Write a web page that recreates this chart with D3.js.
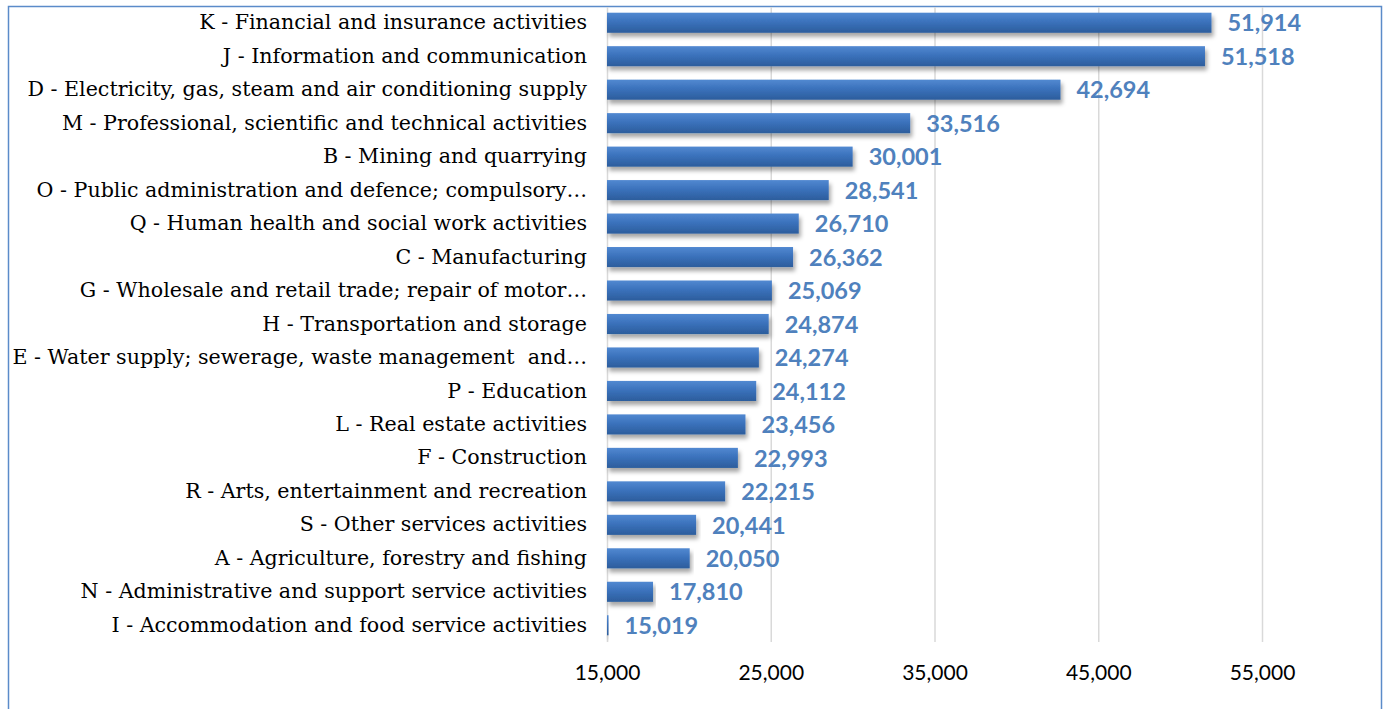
<!DOCTYPE html>
<html><head><meta charset="utf-8">
<script src="https://cdn.jsdelivr.net/npm/d3@7"></script>
<style>
html,body{margin:0;padding:0;background:#fff;overflow:hidden;}
svg{display:block;}
</style></head>
<body>
<svg id="chart" width="1388" height="709"></svg>
<script>
const categories = [
  "K - Financial and insurance activities",
  "J - Information and communication",
  "D - Electricity, gas, steam and air conditioning supply",
  "M - Professional, scientific and technical activities",
  "B - Mining and quarrying",
  "O - Public administration and defence; compulsory…",
  "Q - Human health and social work activities",
  "C - Manufacturing",
  "G - Wholesale and retail trade; repair of motor…",
  "H - Transportation and storage",
  "E - Water supply; sewerage, waste management  and…",
  "P - Education",
  "L - Real estate activities",
  "F - Construction",
  "R - Arts, entertainment and recreation",
  "S - Other services activities",
  "A - Agriculture, forestry and fishing",
  "N - Administrative and support service activities",
  "I - Accommodation and food service activities"
];
const values = [51914,51518,42694,33516,30001,28541,26710,26362,25069,24874,24274,24112,23456,22993,22215,20441,20050,17810,15019];
const tickValues = [15000,25000,35000,45000,55000];

const svg = d3.select("#chart");
const defs = svg.append("defs");
const grad = defs.append("linearGradient").attr("id","barGrad").attr("x1",0).attr("x2",0).attr("y1",0).attr("y2",1);
grad.append("stop").attr("offset","0%").attr("stop-color","#5289d1");
grad.append("stop").attr("offset","45%").attr("stop-color","#3b72bc");
grad.append("stop").attr("offset","100%").attr("stop-color","#2c5d9c");
const f = defs.append("filter").attr("id","shadow").attr("x","-5%").attr("y","-50%").attr("width","110%").attr("height","220%");
f.append("feDropShadow").attr("dx",2).attr("dy",4).attr("stdDeviation",2.2).attr("flood-color","#000").attr("flood-opacity",0.35);

// border
svg.append("rect").attr("x",8.5).attr("y",6.5).attr("width",1373).attr("height",720)
  .attr("fill","none").attr("stroke","#5b8bc9").attr("stroke-width",1.5);

const x = d3.scaleLinear().domain([15000,55000]).range([607,1262]);
const y = d3.scaleBand().domain(categories).range([6,642]).paddingInner(0.4).paddingOuter(0.2);

// gridlines
svg.append("g").selectAll("line").data(tickValues).join("line")
  .attr("x1",d=>x(d)+0.5).attr("x2",d=>x(d)+0.5).attr("y1",7).attr("y2",642)
  .attr("stroke","#d9d9d9").attr("stroke-width",1.5);

// x axis
const xAxis = d3.axisBottom(x).tickValues(tickValues).tickSize(0).tickPadding(0).tickFormat(d3.format(","));
const gx = svg.append("g").attr("transform","translate(0,680)").call(xAxis);
gx.select(".domain").remove();
gx.selectAll("text").attr("font-family","Lato, 'Open Sans', sans-serif").attr("font-size",21).attr("fill","#000").attr("dy","0");

// bars
svg.append("g").selectAll("rect").data(values).join("rect")
  .attr("x",x(15000)).attr("y",(d,i)=>y(categories[i]))
  .attr("width",d=>Math.max(1.5,x(d)-x(15000))).attr("height",y.bandwidth())
  .attr("fill","url(#barGrad)").attr("filter","url(#shadow)");

// category labels
const yAxis = d3.axisLeft(y).tickSize(0).tickPadding(20);
const gy = svg.append("g").attr("transform",`translate(${x(15000)},0)`).call(yAxis);
gy.select(".domain").remove();
gy.selectAll("text").attr("font-family","'DejaVu Serif', serif").attr("font-size",20.6).attr("fill","#000")
  .style("white-space","pre");

// value labels
svg.append("g").selectAll("text").data(values).join("text")
  .attr("x",d=>Math.max(x(d),x(15000)+1.5)+16).attr("y",(d,i)=>y(categories[i])+y.bandwidth()/2)
  .attr("dy","0.37em")
  .attr("font-family","Lato, 'Open Sans', sans-serif").attr("font-weight","bold").attr("font-size",23.5)
  .attr("fill","#4f81bd").text(d=>d3.format(",")(d));
</script>
</body></html>
